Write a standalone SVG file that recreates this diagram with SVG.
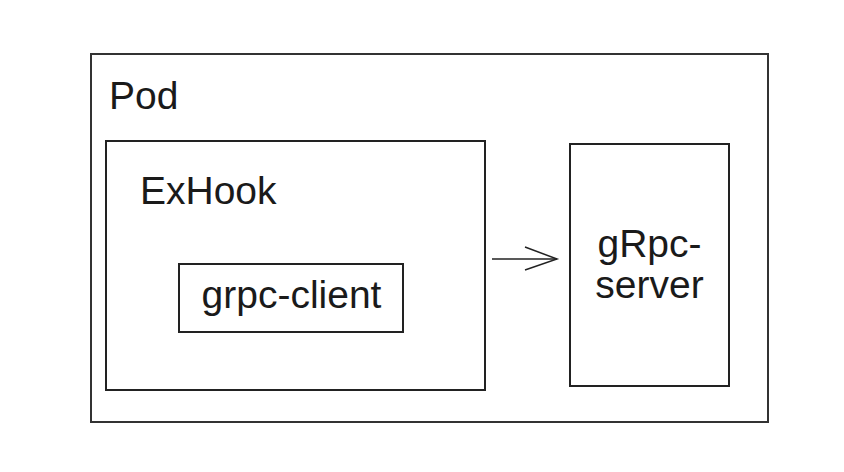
<svg xmlns="http://www.w3.org/2000/svg" width="844" height="472" viewBox="0 0 844 472">
<style>
.box{fill:none;stroke:#222;stroke-width:2}
.t{font-family:"Liberation Sans",Arial,sans-serif;font-size:39px;fill:#1a1a1a}
.c{text-anchor:middle}
.edge{fill:none;stroke:#222;stroke-width:1.5}
</style>
<rect width="844" height="472" fill="#fff"/>
<g id="pod">
<rect class="box" x="91" y="54" width="677" height="368" style="stroke:#333"/>
<text class="t" x="109" y="109">Pod</text>
</g>
<g id="exhook">
<rect class="box" x="106" y="141" width="379" height="249"/>
<text class="t" x="140" y="204">ExHook</text>
</g>
<g id="grpc-client">
<rect class="box" x="179" y="264" width="224" height="68"/>
<text class="t c" x="291.5" y="308">grpc-client</text>
</g>
<g id="grpc-server">
<rect class="box" x="570" y="144" width="159" height="242"/>
<text class="t c" x="649.5" y="257">gRpc-</text>
<text class="t c" x="649.5" y="298">server</text>
</g>
<g id="connectors">
<path class="edge" d="M492 259 L557 259"/>
<path class="edge" d="M525 247 L557 259 L525 270"/>
</g>
</svg>
